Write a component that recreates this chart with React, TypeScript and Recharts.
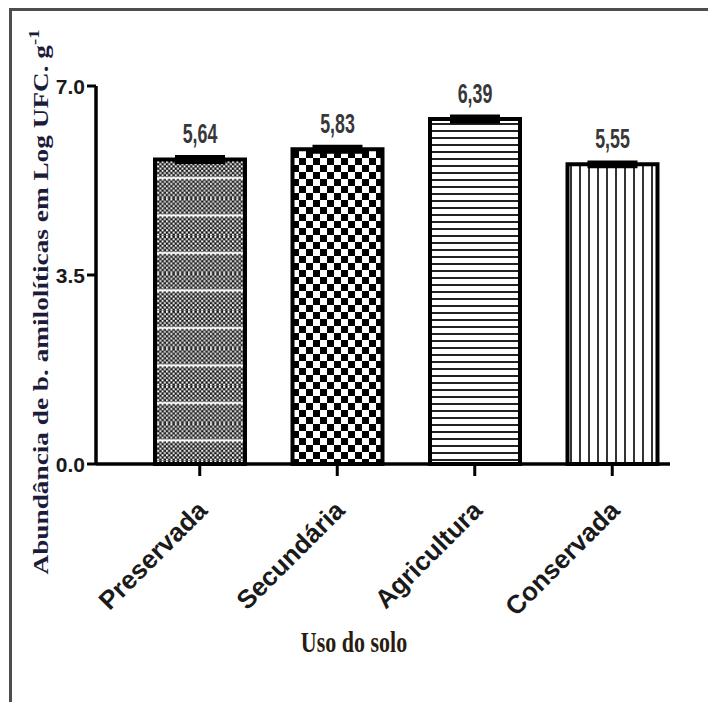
import React from "react";
import {
  BarChart,
  Bar,
  XAxis,
  YAxis,
  Cell,
  LabelList,
  ErrorBar,
  Label,
} from "recharts";

const usoDoSolo = ["Preservada", "Secundária", "Agricultura", "Conservada"];
const abundancia = [5.64, 5.83, 6.39, 5.55];
const erro = [0.05, 0.05, 0.05, 0.04];
const rotulos = ["5,64", "5,83", "6,39", "5,55"];
const yTicks = [0, 3.5, 7];
const padroes = ["url(#pres)", "url(#sec)", "url(#agri)", "url(#cons)"];

const data = usoDoSolo.map((uso, i) => ({
  uso,
  valor: abundancia[i],
  erro: erro[i],
  rotulo: rotulos[i],
}));

const arial = "'Liberation Sans', Arial, sans-serif";
const serif = "'Liberation Serif', 'Times New Roman', serif";

function XTick({ x, y, payload }: any) {
  return (
    <g transform={`translate(${x + 9},${y + 34})`}>
      <text
        textAnchor="end"
        transform="rotate(-45)"
        fontFamily={arial}
        fontWeight="bold"
        fontSize={26}
        fill="#1a1a1a"
      >
        {payload.value}
      </text>
    </g>
  );
}

function YTick({ x, y, payload }: any) {
  return (
    <text
      x={x}
      y={y}
      dy="0.36em"
      textAnchor="end"
      fontFamily={arial}
      fontWeight="bold"
      fontSize={21}
      fill="#1a1a1a"
    >
      {payload.value.toFixed(1)}
    </text>
  );
}

function ValueLabel({ x, y, width, value }: any) {
  return (
    <text
      transform={`translate(${x + width / 2},${y - 16}) scale(0.85,1.3)`}
      textAnchor="middle"
      fontFamily={arial}
      fontWeight="bold"
      fontSize={21}
      fill="#383838"
    >
      {value}
    </text>
  );
}

function Patterns() {
  return (
    <svg width={0} height={0} style={{ position: "absolute" }}>
      <defs>
        <pattern id="fine" width={4.4} height={4.4} patternUnits="userSpaceOnUse">
          <rect width={4.4} height={4.4} fill="#111" />
          <rect x={0} y={0} width={2} height={2} fill="#fff" />
          <rect x={2.2} y={2.2} width={2} height={2} fill="#fff" />
        </pattern>
        <pattern id="pres" width={44} height={37.5} patternUnits="userSpaceOnUse">
          <rect width={44} height={37.5} fill="url(#fine)" />
          <rect y={16} width={44} height={2} fill="#fff" />
        </pattern>
        <pattern id="sec" width={14} height={14} patternUnits="userSpaceOnUse">
          <rect width={14} height={14} fill="#fff" />
          <rect x={0} y={0} width={7} height={7} fill="#000" />
          <rect x={7} y={7} width={7} height={7} fill="#000" />
        </pattern>
        <pattern id="agri" width={10} height={7} patternUnits="userSpaceOnUse">
          <rect width={10} height={7} fill="#fff" />
          <rect y={0} width={10} height={2} fill="#222" />
        </pattern>
        <pattern id="cons" width={9} height={10} patternUnits="userSpaceOnUse">
          <rect width={9} height={10} fill="#fff" />
          <rect x={0} width={2} height={10} fill="#333" />
        </pattern>
      </defs>
    </svg>
  );
}

export default function App() {
  return (
    <div
      style={{
        position: "absolute",
        left: 9,
        top: 8,
        width: 699,
        height: 694,
        borderTop: "3px solid #4d4d4d",
        borderLeft: "3px solid #4d4d4d",
        boxSizing: "border-box",
        background: "#fff",
        overflow: "hidden",
      }}
    >
      <Patterns />
      <BarChart
        width={696}
        height={691}
        data={data}
        margin={{ top: 75, right: 38, bottom: 38, left: 0 }}
      >
        <XAxis
          dataKey="uso"
          height={200}
          interval={0}
          tickSize={12}
          axisLine={{ stroke: "#000", strokeWidth: 3.5 }}
          tickLine={{ stroke: "#000", strokeWidth: 3 }}
          padding={{ left: 35, right: -11 }}
          tick={<XTick />}
        >
          <Label
            content={() => (
              <text
                transform="translate(342,641) scale(1,1.3)"
                textAnchor="middle"
                fontFamily={serif}
                fontWeight="bold"
                fontSize={22}
                fill="#2a1c10"
              >
                Uso do solo
              </text>
            )}
          />
        </XAxis>
        <YAxis
          width={84}
          domain={[0, 7]}
          ticks={yTicks}
          tickSize={9}
          tickMargin={2}
          axisLine={{ stroke: "#000", strokeWidth: 3.5 }}
          tickLine={{ stroke: "#000", strokeWidth: 3 }}
          tick={<YTick />}
        >
          <Label
            content={() => (
              <text
                transform="translate(36,291) rotate(-90)"
                textAnchor="middle"
                textLength={545}
                lengthAdjust="spacingAndGlyphs"
                fontFamily={serif}
                fontWeight="bold"
                fontSize={22}
                fill="#1b1b3a"
              >
                Abundância de b. amilolíticas em Log UFC. g
                <tspan dy={-9} fontSize={15}>
                  -1
                </tspan>
              </text>
            )}
          />
        </YAxis>
        <Bar
          dataKey="valor"
          barSize={90}
          stroke="#000"
          strokeWidth={4}
          isAnimationActive={false}
        >
          {data.map((d, i) => (
            <Cell key={d.uso} fill={padroes[i]} />
          ))}
          <ErrorBar
            dataKey="erro"
            direction="y"
            width={25}
            stroke="#000"
            strokeWidth={3.5}
            isAnimationActive={false}
          />
          <LabelList dataKey="rotulo" content={<ValueLabel />} />
        </Bar>
      </BarChart>
    </div>
  );
}
